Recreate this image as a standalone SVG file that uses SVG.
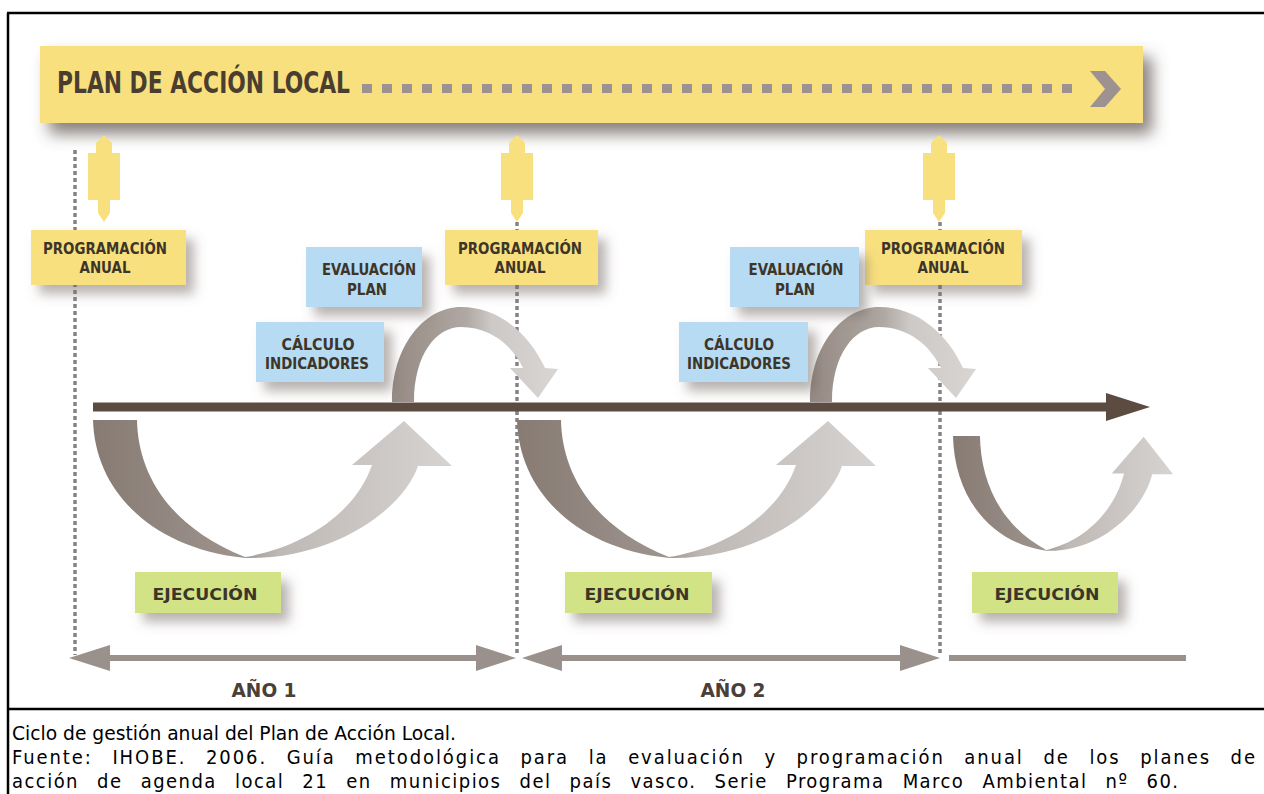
<svg xmlns="http://www.w3.org/2000/svg" width="1264" height="794" viewBox="0 0 1264 794">
<style>
.lbl{font-family:'Liberation Sans Narrow','DejaVu Sans Condensed','Roboto Condensed',sans-serif;font-stretch:condensed;font-weight:bold;fill:#3e3529;text-anchor:middle}
.cap{font-family:'DejaVu Sans Condensed','DejaVu Sans',sans-serif;font-size:20px;fill:#000}
.yel{fill:#f9e07e}
.blu{fill:#b6dbf2}
.grn{fill:#d2e386}
.dot{stroke:#878285;stroke-width:3.5;stroke-dasharray:4 3;fill:none}
.yr{fill:#9b918c}
</style>
<defs>
<filter id="sh" x="-20%" y="-30%" width="160%" height="200%">
<feDropShadow dx="8" dy="9" stdDeviation="6" flood-color="#6f6560" flood-opacity="0.5"/>
</filter>
<filter id="bsh" x="-5%" y="-30%" width="115%" height="190%">
<feDropShadow dx="9" dy="11" stdDeviation="8" flood-color="#544a45" flood-opacity="0.7"/>
</filter>
<linearGradient id="ug" x1="0" y1="0" x2="1" y2="0">
<stop offset="0" stop-color="#877b73"/>
<stop offset="0.4" stop-color="#9d938d"/>
<stop offset="0.52" stop-color="#bfb9b5"/>
<stop offset="1" stop-color="#d6d3d1"/>
</linearGradient>
<linearGradient id="ag" x1="0" y1="0" x2="1" y2="0">
<stop offset="0" stop-color="#958a83"/>
<stop offset="0.45" stop-color="#b0a8a3"/>
<stop offset="0.6" stop-color="#cdc9c6"/>
<stop offset="1" stop-color="#d8d5d3"/>
</linearGradient>
<path id="totem" d="M0,135 L8,143 L8,153 L16,153 L16,200 L6,200 L6,213 L0,222 L-6,213 L-6,200 L-16,200 L-16,153 L-8,153 L-8,143 Z"/>
<path id="ushape" d="M93,420 L137,420 C138,470 165,525 245,557 C300,548 355,515 372,465 L352,465 L404,421 L452,466 L418,466 C402,512 330,560 245,558 C150,548 95,490 93,420 Z"/>
<path id="arc" d="M392,402 C392,345 425,307 461,307 C500,307 530,335 545,368 L558,369 L538,398 L510,368 L523,368 C512,345 490,327 461,327 C436,327 414,355 414,402 Z"/>
</defs>
<rect width="1264" height="794" fill="#fff"/>
<g id="frame" stroke="#000" stroke-width="2.5" fill="none">
<line x1="7" y1="13" x2="1264" y2="13"/>
<line x1="8" y1="13" x2="8" y2="794"/>
<line x1="7" y1="709" x2="1264" y2="709"/>
</g>
<g id="banner">
<rect x="40" y="46" width="1103" height="77" class="yel" filter="url(#bsh)"/>
<text x="57" y="93" class="lbl" style="text-anchor:start;font-size:31px;fill:#4a3e31" textLength="293" lengthAdjust="spacingAndGlyphs">PLAN DE ACCIÓN LOCAL</text>
<path fill="#9d9290" d="M362,84h10v9h-10zM382,84h10v9h-10zM402,84h10v9h-10zM422,84h10v9h-10zM442,84h10v9h-10zM462,84h10v9h-10zM482,84h10v9h-10zM502,84h10v9h-10zM522,84h10v9h-10zM542,84h10v9h-10zM562,84h10v9h-10zM582,84h10v9h-10zM602,84h10v9h-10zM622,84h10v9h-10zM642,84h10v9h-10zM662,84h10v9h-10zM682,84h10v9h-10zM702,84h10v9h-10zM722,84h10v9h-10zM742,84h10v9h-10zM762,84h10v9h-10zM782,84h10v9h-10zM802,84h10v9h-10zM822,84h10v9h-10zM842,84h10v9h-10zM862,84h10v9h-10zM882,84h10v9h-10zM902,84h10v9h-10zM922,84h10v9h-10zM942,84h10v9h-10zM962,84h10v9h-10zM982,84h10v9h-10zM1002,84h10v9h-10zM1022,84h10v9h-10zM1042,84h10v9h-10zM1062,84h10v9h-10z"/>
<path fill="#9d9290" d="M1090,71 L1105,71 L1121,89 L1105,107 L1090,107 L1105,89 Z"/>
</g>
<g id="connectors">
<line class="dot" x1="75" y1="150" x2="75" y2="655"/>
<line class="dot" x1="517" y1="222" x2="517" y2="655"/>
<line class="dot" x1="940" y1="222" x2="940" y2="655"/>
<use href="#totem" x="104" class="yel"/>
<use href="#totem" x="517" class="yel"/>
<use href="#totem" x="939" class="yel"/>
<line x1="93" y1="407" x2="1110" y2="407" stroke="#5c4b40" stroke-width="9"/>
<path d="M1106,393 L1150,407 L1106,421 Z" fill="#5c4b40"/>
<use href="#arc" fill="url(#ag)"/>
<use href="#arc" fill="url(#ag)" transform="translate(418,0)"/>
<use href="#ushape" fill="url(#ug)"/>
<use href="#ushape" fill="url(#ug)" transform="translate(424,0)"/>
<use href="#ushape" fill="url(#ug)" transform="translate(953,436) scale(0.613,0.832) translate(-93,-420)"/>
<line x1="100" y1="658" x2="490" y2="658" stroke="#9b918c" stroke-width="6"/>
<path class="yr" d="M69,658 L110,645 L110,671 Z M516,658 L476,645 L476,671 Z"/>
<line x1="550" y1="658" x2="915" y2="658" stroke="#9b918c" stroke-width="6"/>
<path class="yr" d="M522,658 L562,645 L562,671 Z M940,658 L900,645 L900,671 Z"/>
<line x1="949" y1="658" x2="1186" y2="658" stroke="#9b918c" stroke-width="6"/>
</g>
<g id="prog1">
<rect x="31" y="230" width="155" height="55" class="yel" filter="url(#sh)"/>
<text x="105" y="254" class="lbl" style="font-size:15px" textLength="124" lengthAdjust="spacingAndGlyphs">PROGRAMACIÓN</text>
<text x="105" y="273" class="lbl" style="font-size:15px" textLength="51" lengthAdjust="spacingAndGlyphs">ANUAL</text>
</g>
<g id="prog2">
<rect x="445" y="230" width="153" height="55" class="yel" filter="url(#sh)"/>
<text x="520" y="254" class="lbl" style="font-size:15px" textLength="124" lengthAdjust="spacingAndGlyphs">PROGRAMACIÓN</text>
<text x="520" y="273" class="lbl" style="font-size:15px" textLength="51" lengthAdjust="spacingAndGlyphs">ANUAL</text>
</g>
<g id="prog3">
<rect x="865" y="230" width="157" height="55" class="yel" filter="url(#sh)"/>
<text x="943" y="254" class="lbl" style="font-size:15px" textLength="124" lengthAdjust="spacingAndGlyphs">PROGRAMACIÓN</text>
<text x="943" y="273" class="lbl" style="font-size:15px" textLength="51" lengthAdjust="spacingAndGlyphs">ANUAL</text>
</g>
<g id="eval1">
<rect x="306" y="247" width="116" height="60" class="blu" filter="url(#sh)"/>
<text x="369" y="275" class="lbl" style="font-size:15px" textLength="94" lengthAdjust="spacingAndGlyphs">EVALUACIÓN</text>
<text x="367" y="295" class="lbl" style="font-size:15px" textLength="40" lengthAdjust="spacingAndGlyphs">PLAN</text>
</g>
<g id="calc1">
<rect x="256" y="322" width="128" height="60" class="blu" filter="url(#sh)"/>
<text x="318" y="350" class="lbl" style="font-size:15px" textLength="73" lengthAdjust="spacingAndGlyphs">CÁLCULO</text>
<text x="317" y="369" class="lbl" style="font-size:15px" textLength="104" lengthAdjust="spacingAndGlyphs">INDICADORES</text>
</g>
<g id="eval2">
<rect x="730" y="247" width="129" height="60" class="blu" filter="url(#sh)"/>
<text x="796" y="275" class="lbl" style="font-size:15px" textLength="95" lengthAdjust="spacingAndGlyphs">EVALUACIÓN</text>
<text x="795" y="295" class="lbl" style="font-size:15px" textLength="40" lengthAdjust="spacingAndGlyphs">PLAN</text>
</g>
<g id="calc2">
<rect x="679" y="322" width="129" height="60" class="blu" filter="url(#sh)"/>
<text x="739" y="350" class="lbl" style="font-size:15px" textLength="70" lengthAdjust="spacingAndGlyphs">CÁLCULO</text>
<text x="739" y="369" class="lbl" style="font-size:15px" textLength="104" lengthAdjust="spacingAndGlyphs">INDICADORES</text>
</g>
<g id="ejec1">
<rect x="135" y="572" width="146" height="41" class="grn" filter="url(#sh)"/>
<text x="205" y="600" class="lbl" style="font-size:16px" textLength="105" lengthAdjust="spacingAndGlyphs">EJECUCIÓN</text>
</g>
<g id="ejec2">
<rect x="565" y="572" width="147" height="41" class="grn" filter="url(#sh)"/>
<text x="637" y="600" class="lbl" style="font-size:16px" textLength="105" lengthAdjust="spacingAndGlyphs">EJECUCIÓN</text>
</g>
<g id="ejec3">
<rect x="972" y="572" width="146" height="41" class="grn" filter="url(#sh)"/>
<text x="1047" y="600" class="lbl" style="font-size:16px" textLength="105" lengthAdjust="spacingAndGlyphs">EJECUCIÓN</text>
</g>
<g id="years">
<text x="264" y="697" class="lbl" style="font-size:19px;fill:#4a4038" textLength="65" lengthAdjust="spacingAndGlyphs">AÑO 1</text>
<text x="733" y="697" class="lbl" style="font-size:19px;fill:#4a4038" textLength="65" lengthAdjust="spacingAndGlyphs">AÑO 2</text>
</g>
<g id="caption">
<text x="12" y="740" class="cap" textLength="444" lengthAdjust="spacingAndGlyphs">Ciclo de gestión anual del Plan de Acción Local.</text>
<text x="12" y="764" class="cap" style="word-spacing:12px" textLength="1243" lengthAdjust="spacing">Fuente: IHOBE. 2006. Guía metodológica para la evaluación y programación anual de los planes de</text>
<text x="12" y="788" class="cap" style="word-spacing:11px" textLength="1166" lengthAdjust="spacing">acción de agenda local 21 en municipios del país vasco. Serie Programa Marco Ambiental nº 60.</text>
</g>
</svg>
